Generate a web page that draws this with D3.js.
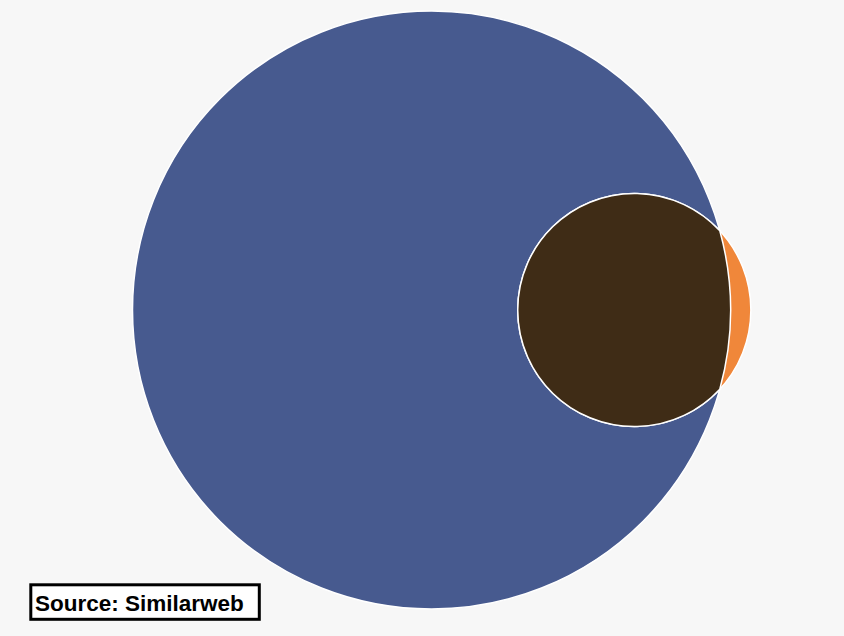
<!DOCTYPE html>
<html><head><meta charset="utf-8">
<script src="https://cdn.jsdelivr.net/npm/d3@7"></script>
<style>html,body{margin:0;padding:0;background:#f7f7f7;}svg{display:block;}</style>
</head><body>
<svg id="chart" width="844" height="636"></svg>
<script>
// Data
const setNames = ["Site A", "Site B"];
const setSizes = [100, 15.2];
const overlapSize = 14.4;
const setColors = ["#475a8f", "#f0873a"];
const overlapColor = "#3f2c16";
const sourceLabel = "Source: Similarweb";

const svg = d3.select("#chart");
const W = 844, H = 636;
svg.append("rect").attr("width", W).attr("height", H).attr("fill", "#f7f7f7");

const r = d3.scaleSqrt().domain([0, 100]).range([0, 299]);
const r1 = r(setSizes[0]), r2 = r(setSizes[1]);
const unitArea = Math.PI * r1 * r1 / setSizes[0];
const targetArea = overlapSize * unitArea;

function lensArea(d, a, b) {
  if (d >= a + b) return 0;
  if (d <= Math.abs(a - b)) return Math.PI * Math.min(a, b) ** 2;
  const t1 = a * a * Math.acos((d * d + a * a - b * b) / (2 * d * a));
  const t2 = b * b * Math.acos((d * d + b * b - a * a) / (2 * d * b));
  const t3 = 0.5 * Math.sqrt((-d + a + b) * (d + a - b) * (d - a + b) * (d + a + b));
  return t1 + t2 - t3;
}
let lo = Math.abs(r1 - r2), hi = r1 + r2;
for (let i = 0; i < 100; i++) {
  const mid = (lo + hi) / 2;
  if (lensArea(mid, r1, r2) > targetArea) lo = mid; else hi = mid;
}
const dist = (lo + hi) / 2;

const c1 = {x: 431.5, y: 310};
const c2 = {x: c1.x + dist, y: 310};

const a = (dist * dist + r1 * r1 - r2 * r2) / (2 * dist);
const h = Math.sqrt(r1 * r1 - a * a);
const px = c1.x + a, pTop = c1.y - h, pBot = c1.y + h;

svg.append("circle").attr("cx", c1.x).attr("cy", c1.y).attr("r", r1)
  .attr("fill", setColors[0]).attr("stroke", "#fff").attr("stroke-width", 1.5);
svg.append("circle").attr("cx", c2.x).attr("cy", c2.y).attr("r", r2)
  .attr("fill", setColors[1]).attr("stroke", "#fff").attr("stroke-width", 1.5);

const large2 = px > c2.x ? 1 : 0;
const path = `M${px},${pTop} A${r2},${r2} 0 ${large2} 0 ${px},${pBot} A${r1},${r1} 0 0 0 ${px},${pTop} Z`;
svg.append("path").attr("d", path).attr("fill", overlapColor)
  .attr("stroke", "#fff").attr("stroke-width", 1.5);

// Source box
const g = svg.append("g");
g.append("rect").attr("x", 30.8).attr("y", 584.8).attr("width", 228.5).attr("height", 34.5)
  .attr("fill", "#fff").attr("stroke", "#000").attr("stroke-width", 3);
g.append("text").attr("x", 35).attr("y", 611).text(sourceLabel)
  .attr("font-family", "Liberation Sans, Arial, Helvetica, sans-serif").attr("font-weight", "bold")
  .attr("font-size", 22.5).attr("fill", "#000");
</script>
</body></html>
